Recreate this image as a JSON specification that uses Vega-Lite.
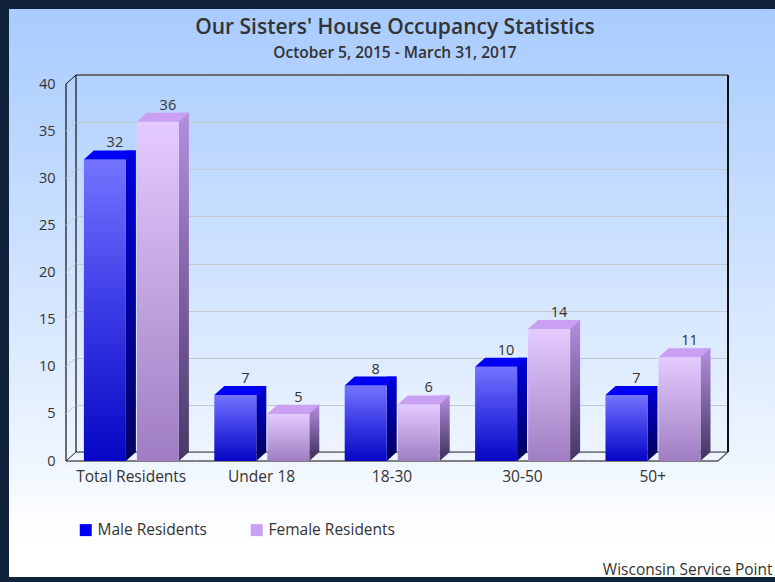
{
  "$schema": "https://vega.github.io/schema/vega-lite/v6.json",
  "width": 800,
  "height": 586,
  "autosize": "none",
  "padding": 0,
  "background": "#ffffff",
  "config": {
    "font": "Open Sans",
    "view": {
      "fill": {"gradient": "linear", "x1": 0, "y1": 0, "x2": 0, "y2": 1,
        "stops": [
          {"offset": 0, "color": "#a8caff"},
          {"offset": 0.2, "color": "#b8d5ff"},
          {"offset": 0.5, "color": "#d3e5ff"},
          {"offset": 0.78, "color": "#eef5ff"},
          {"offset": 0.9, "color": "#fdfeff"},
          {"offset": 1, "color": "#ffffff"}
        ]},
      "stroke": "#10233b",
      "strokeWidth": 18
    }
  },
  "title": {
    "text": "Our Sisters' House Occupancy Statistics",
    "subtitle": "October 5, 2015 - March 31, 2017",
    "anchor": "middle",
    "frame": "group",
    "dx": -5,
    "offset": -61,
    "fontSize": 21,
    "fontWeight": 600,
    "color": "#333333",
    "subtitleFontSize": 15.5,
    "subtitleFontWeight": 600,
    "subtitleColor": "#333333",
    "subtitlePadding": 7.5
  },
  "data": {
    "values": [
      {"cat": "Total Residents", "series": "Male Residents", "v": 32},
      {"cat": "Total Residents", "series": "Female Residents", "v": 36},
      {"cat": "Under 18", "series": "Male Residents", "v": 7},
      {"cat": "Under 18", "series": "Female Residents", "v": 5},
      {"cat": "18-30", "series": "Male Residents", "v": 8},
      {"cat": "18-30", "series": "Female Residents", "v": 6},
      {"cat": "30-50", "series": "Male Residents", "v": 10},
      {"cat": "30-50", "series": "Female Residents", "v": 14},
      {"cat": "50+", "series": "Male Residents", "v": 7},
      {"cat": "50+", "series": "Female Residents", "v": 11}
    ]
  },
  "encoding": {
    "x": {
      "field": "cat", "type": "nominal", "sort": null,
      "scale": {"domain": ["Total Residents", "Under 18", "18-30", "30-50", "50+"], "range": [76, 728], "paddingInner": 0, "paddingOuter": 0},
      "axis": {
        "orient": "bottom", "offset": -125, "domain": false, "ticks": false, "tickSize": 0, "grid": false,
        "labelPadding": 8, "labelOffset": -10, "labelAngle": 0, "labelFontSize": 15.5, "labelColor": "#333333", "labelFont": "Open Sans",
        "title": "Wisconsin Service Point", "titleX": 772, "titleY": 113, "titleAlign": "right", "titleBaseline": "alphabetic",
        "titleFontWeight": "normal", "titleFontSize": 15.5, "titleColor": "#333333", "titleFont": "Open Sans"
      }
    },
    "y": {
      "field": "v", "type": "quantitative",
      "scale": {"domain": [0, 40], "range": [452, 75], "nice": false, "zero": true},
      "axis": {
        "values": [0, 5, 10, 15, 20, 25, 30, 35, 40], "offset": -66, "domain": false, "ticks": false, "tickSize": 0,
        "grid": true, "gridColor": "#c4c8cc", "gridWidth": 1,
        "labelPadding": 11, "labelOffset": 9, "labelFontSize": 14.5, "labelColor": "#333333", "labelFont": "Open Sans", "title": null
      }
    }
  },
  "layer": [
    {"transform": [{"filter": "datum.series === 'Male Residents'"}],
     "mark": {"type": "rule", "color": "#111111", "strokeWidth": 1.2, "xOffset": -65.2, "x2Offset": 65.2},
     "encoding": {"x2": {"field": "cat"}, "y": {"datum": 40}}},
    {"transform": [{"filter": "datum.series === 'Male Residents'"}],
     "mark": {"type": "rule", "color": "#333333", "strokeWidth": 1, "xOffset": -65.2, "x2Offset": 65.2},
     "encoding": {"x2": {"field": "cat"}, "y": {"datum": 0}}},
    {"transform": [{"filter": "datum.series === 'Male Residents'"}],
     "mark": {"type": "rule", "color": "#808080", "strokeWidth": 2, "xOffset": -75.2, "x2Offset": 55.2, "yOffset": 9},
     "encoding": {"x2": {"field": "cat"}, "y": {"datum": 0}}},
    {"transform": [{"filter": "datum.series === 'Male Residents' && datum.cat === 'Total Residents'"}],
     "mark": {"type": "rule", "color": "#111111", "strokeWidth": 1.2, "xOffset": -65.2},
     "encoding": {"y": {"datum": 0}, "y2": {"datum": 40}}},
    {"transform": [{"filter": "datum.series === 'Male Residents' && datum.cat === '50+'"}],
     "mark": {"type": "rule", "color": "#111111", "strokeWidth": 2, "xOffset": 65.2},
     "encoding": {"y": {"datum": 0}, "y2": {"datum": 40}}},
    {"transform": [{"filter": "datum.series === 'Male Residents' && datum.cat === 'Total Residents'"}],
     "mark": {"type": "rule", "color": "#111111", "strokeWidth": 1.2, "xOffset": -75.2, "yOffset": 9, "y2Offset": 9},
     "encoding": {"y": {"datum": 0}, "y2": {"datum": 40}}},
    {"transform": [{"filter": "datum.series === 'Male Residents' && datum.cat === 'Total Residents'"}],
     "mark": {"type": "rule", "color": "#111111", "strokeWidth": 1, "xOffset": -75.2, "x2Offset": -65.2, "yOffset": 9},
     "encoding": {"x2": {"field": "cat"}, "y": {"datum": 40}, "y2": {"datum": 40}}},
    {"transform": [{"filter": "datum.series === 'Male Residents' && datum.cat === 'Total Residents'"}],
     "mark": {"type": "rule", "color": "#222222", "strokeWidth": 1, "xOffset": -75.2, "x2Offset": -65.2, "yOffset": 9},
     "encoding": {"x2": {"field": "cat"}, "y": {"datum": 0}, "y2": {"datum": 0}}},
    {"transform": [{"filter": "datum.series === 'Male Residents' && datum.cat === '50+'"}],
     "mark": {"type": "rule", "color": "#555555", "strokeWidth": 1.2, "xOffset": 55.2, "x2Offset": 65.2, "yOffset": 9},
     "encoding": {"x2": {"field": "cat"}, "y": {"datum": 0}, "y2": {"datum": 0}}},
    {"transform": [{"filter": "datum.series === 'Male Residents' && datum.cat === 'Total Residents'"}],
     "mark": {"type": "rule", "color": "#c4c8cc", "strokeWidth": 1, "xOffset": -75.2, "x2Offset": -65.2, "yOffset": 9},
     "encoding": {"x2": {"field": "cat"}, "y": {"datum": 5}, "y2": {"datum": 5}}},
    {"transform": [{"filter": "datum.series === 'Male Residents' && datum.cat === 'Total Residents'"}],
     "mark": {"type": "rule", "color": "#c4c8cc", "strokeWidth": 1, "xOffset": -75.2, "x2Offset": -65.2, "yOffset": 9},
     "encoding": {"x2": {"field": "cat"}, "y": {"datum": 10}, "y2": {"datum": 10}}},
    {"transform": [{"filter": "datum.series === 'Male Residents' && datum.cat === 'Total Residents'"}],
     "mark": {"type": "rule", "color": "#c4c8cc", "strokeWidth": 1, "xOffset": -75.2, "x2Offset": -65.2, "yOffset": 9},
     "encoding": {"x2": {"field": "cat"}, "y": {"datum": 15}, "y2": {"datum": 15}}},
    {"transform": [{"filter": "datum.series === 'Male Residents' && datum.cat === 'Total Residents'"}],
     "mark": {"type": "rule", "color": "#c4c8cc", "strokeWidth": 1, "xOffset": -75.2, "x2Offset": -65.2, "yOffset": 9},
     "encoding": {"x2": {"field": "cat"}, "y": {"datum": 20}, "y2": {"datum": 20}}},
    {"transform": [{"filter": "datum.series === 'Male Residents' && datum.cat === 'Total Residents'"}],
     "mark": {"type": "rule", "color": "#c4c8cc", "strokeWidth": 1, "xOffset": -75.2, "x2Offset": -65.2, "yOffset": 9},
     "encoding": {"x2": {"field": "cat"}, "y": {"datum": 25}, "y2": {"datum": 25}}},
    {"transform": [{"filter": "datum.series === 'Male Residents' && datum.cat === 'Total Residents'"}],
     "mark": {"type": "rule", "color": "#c4c8cc", "strokeWidth": 1, "xOffset": -75.2, "x2Offset": -65.2, "yOffset": 9},
     "encoding": {"x2": {"field": "cat"}, "y": {"datum": 30}, "y2": {"datum": 30}}},
    {"transform": [{"filter": "datum.series === 'Male Residents' && datum.cat === 'Total Residents'"}],
     "mark": {"type": "rule", "color": "#c4c8cc", "strokeWidth": 1, "xOffset": -75.2, "x2Offset": -65.2, "yOffset": 9},
     "encoding": {"x2": {"field": "cat"}, "y": {"datum": 35}, "y2": {"datum": 35}}},

    {"transform": [{"filter": "datum.series === 'Male Residents'"}],
     "mark": {"type": "bar", "width": 10, "xOffset": -10.3,
       "color": {"gradient": "linear", "x1": 0, "y1": 0, "x2": 0, "y2": 1, "stops": [{"offset": 0, "color": "#0000dc"}, {"offset": 1, "color": "#000066"}]}}},
    {"transform": [{"filter": "datum.series === 'Male Residents'"}],
     "mark": {"type": "point", "shape": "M-1,-0.9L-1,0.9L1,-0.9Z", "size": 100, "filled": true, "opacity": 1, "strokeWidth": 0, "color": "#000064", "xOffset": -10.3, "yOffset": 4.5},
     "encoding": {"y": {"datum": 0, "type": "quantitative"}}},
    {"transform": [{"filter": "datum.series === 'Male Residents'"}],
     "mark": {"type": "bar", "width": 42, "xOffset": -36.3, "yOffset": 9, "y2Offset": 9,
       "color": {"gradient": "linear", "x1": 0, "y1": 0, "x2": 0, "y2": 1, "stops": [{"offset": 0, "color": "#7474ff"}, {"offset": 0.5, "color": "#3a3ae6"}, {"offset": 1, "color": "#0606c4"}]}}},
    {"transform": [{"filter": "datum.series === 'Male Residents'"}],
     "mark": {"type": "point", "shape": "M-1,0.1731L0.6154,0.1731L1,-0.1731L-0.6154,-0.1731Z", "size": 2704, "filled": true, "opacity": 1, "strokeWidth": 0, "xOffset": -31.3, "yOffset": 4.5},
     "encoding": {"color": {"field": "series", "type": "nominal",
       "scale": {"domain": ["Male Residents", "Female Residents"], "range": ["#0000f5", "#c9a0f3"]},
       "legend": {"orient": "none", "legendX": 78, "legendY": 522, "direction": "horizontal", "title": null, "symbolType": "square", "symbolSize": 144,
         "labelFontSize": 15.5, "labelFont": "Open Sans", "labelColor": "#333333", "columnPadding": 42, "labelOffset": 4, "padding": 0}}}},

    {"transform": [{"filter": "datum.series === 'Female Residents'"}],
     "mark": {"type": "bar", "width": 10, "xOffset": 42.7,
       "color": {"gradient": "linear", "x1": 0, "y1": 0, "x2": 0, "y2": 1, "stops": [{"offset": 0, "color": "#b58ee0"}, {"offset": 1, "color": "#4b3a6b"}]}}},
    {"transform": [{"filter": "datum.series === 'Female Residents'"}],
     "mark": {"type": "point", "shape": "M-1,-0.9L-1,0.9L1,-0.9Z", "size": 100, "filled": true, "opacity": 1, "strokeWidth": 0, "color": "#483866", "xOffset": 42.7, "yOffset": 4.5},
     "encoding": {"y": {"datum": 0, "type": "quantitative"}}},
    {"transform": [{"filter": "datum.series === 'Female Residents'"}],
     "mark": {"type": "bar", "width": 42, "xOffset": 16.7, "yOffset": 9, "y2Offset": 9,
       "color": {"gradient": "linear", "x1": 0, "y1": 0, "x2": 0, "y2": 1, "stops": [{"offset": 0, "color": "#e4cbff"}, {"offset": 1, "color": "#a07dc2"}]}}},
    {"transform": [{"filter": "datum.series === 'Female Residents'"}],
     "mark": {"type": "point", "shape": "M-1,0.1731L0.6154,0.1731L1,-0.1731L-0.6154,-0.1731Z", "size": 2704, "filled": true, "opacity": 1, "strokeWidth": 0, "xOffset": 21.7, "yOffset": 4.5},
     "encoding": {"color": {"field": "series", "type": "nominal"}}},

    {"transform": [{"filter": "datum.series === 'Male Residents'"}],
     "mark": {"type": "text", "xOffset": -26.3, "yOffset": -3, "baseline": "alphabetic", "fontSize": 14.5, "color": "#333333", "font": "Open Sans"},
     "encoding": {"text": {"field": "v", "type": "quantitative"}}},
    {"transform": [{"filter": "datum.series === 'Female Residents'"}],
     "mark": {"type": "text", "xOffset": 26.7, "yOffset": -3, "baseline": "alphabetic", "fontSize": 14.5, "color": "#333333", "font": "Open Sans"},
     "encoding": {"text": {"field": "v", "type": "quantitative"}}}
  ]
}
